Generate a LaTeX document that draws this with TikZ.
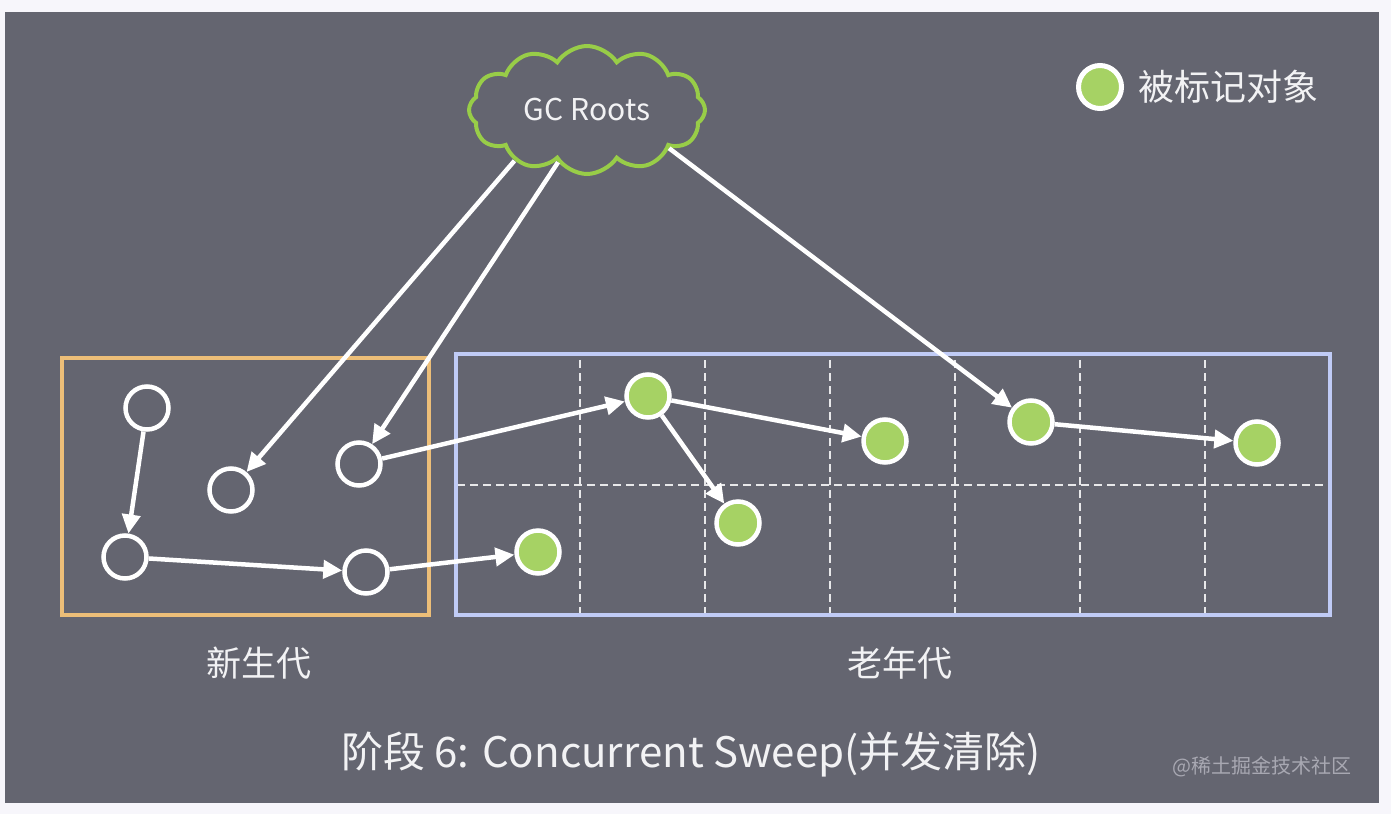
\documentclass[tikz,border=0pt]{standalone}
\usepackage{fontspec}
\setmainfont{Noto Sans CJK SC}
\usetikzlibrary{arrows.meta,shapes.symbols}
\definecolor{pagebg}{RGB}{247,246,251}
\definecolor{panel}{RGB}{100,101,112}
\definecolor{youngc}{RGB}{236,190,120}
\definecolor{oldc}{RGB}{192,203,246}
\definecolor{markc}{RGB}{166,210,100}
\definecolor{cloudc}{RGB}{152,205,72}
\definecolor{txtc}{RGB}{242,242,244}
\definecolor{wmc}{RGB}{168,168,178}
\tikzset{
  hollow/.style={circle,draw=white,line width=4.5pt,minimum size=43pt,inner sep=0pt},
  marked/.style={circle,draw=white,fill=markc,line width=4.5pt,minimum size=43pt,inner sep=0pt},
  conn/.style={draw=white,line width=4.5pt,-{Triangle[length=19pt,width=18pt]}},
  areabox/.style={line width=4pt},
  griddash/.style={draw=white!85!panel,line width=2pt,dash pattern=on 8pt off 5pt},
  lbl/.style={text=txtc,inner sep=0pt}
}
\begin{document}
\begin{tikzpicture}[x=1pt,y=-1pt]
\fill[pagebg] (0,0) rectangle (1391,814);
\useasboundingbox (0,0) rectangle (1391,814);
\fill[panel] (5,12) rectangle (1379,803);

% grid of old generation
\foreach \gx in {580,705,830,955,1080,1205}
  \draw[griddash] (\gx,360) -- (\gx,613);
\draw[griddash] (457,485) -- (1328,485);

% generation boxes
\draw[areabox,draw=youngc] (62,358) rectangle (429,615);
\draw[areabox,draw=oldc] (456,354) rectangle (1330,615);

% cloud
\node[cloud,cloud puffs=12,cloud puff arc=115,aspect=1.9,draw=cloudc,line width=4pt,
      minimum width=236pt,minimum height=128pt,inner sep=0pt,text=txtc,
      font=\fontsize{30}{34}\selectfont] (roots) at (587,110) {GC Roots};

% young generation objects
\node[hollow] (A) at (147,408) {};
\node[hollow] (B) at (231,490) {};
\node[hollow] (C) at (359,464) {};
\node[hollow] (D) at (125,557) {};
\node[hollow] (E) at (366,572) {};

% old generation marked objects
\node[marked] (F) at (648,396) {};
\node[marked] (G) at (538,552) {};
\node[marked] (H) at (738,523) {};
\node[marked] (I) at (885,441) {};
\node[marked] (J) at (1031,422) {};
\node[marked] (K) at (1257,443) {};

% connectors
\draw[conn] (roots.215) -- (B);
\draw[conn] (roots.241) -- (C);
\draw[conn] (roots.335) -- (J);
\draw[conn] (A) -- (D);
\draw[conn] (D) -- (E);
\draw[conn] (C) -- (F);
\draw[conn] (E) -- (G);
\draw[conn] (F) -- (H);
\draw[conn] (F) -- (I);
\draw[conn] (J) -- (K);

% legend
\node[marked,line width=5pt] (legdot) at (1100,87) {};
\node[lbl,anchor=west,font=\fontsize{36}{40}\selectfont] (legtxt) at (1138,87) {被标记对象};

% labels
\node[lbl,font=\fontsize{35}{40}\selectfont] (younglbl) at (259,663) {新生代};
\node[lbl,font=\fontsize{35}{40}\selectfont] (oldlbl) at (900,663) {老年代};
\node[lbl,font=\fontsize{42}{48}\selectfont] (title) at (691,755) {阶段 6: Concurrent Sweep(并发清除)};
\node[lbl,text=wmc,font=\fontsize{20}{24}\selectfont] (wm) at (1262,767) {@稀土掘金技术社区};
\end{tikzpicture}
\end{document}
